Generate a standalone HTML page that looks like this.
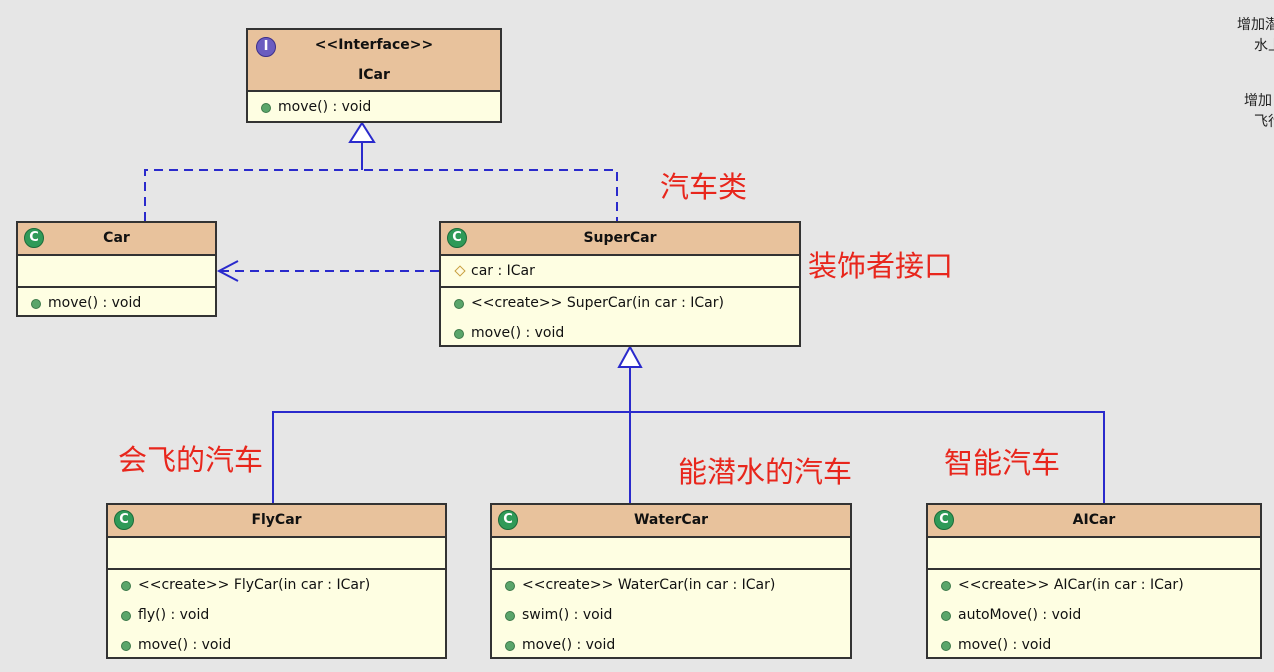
<!DOCTYPE html>
<html><head><meta charset="utf-8"><style>
body{margin:0;width:1274px;height:672px;background:#e6e6e6;position:relative;overflow:hidden;font-family:"DejaVu Sans","Liberation Sans",sans-serif;font-size:14px;color:#111}
.b{position:absolute;border:2px solid #333;background:#fefee2;box-sizing:border-box}
.h{background:#e8c29c;border-bottom:2px solid #333;height:31px;position:relative;text-align:center;font-weight:bold;line-height:31px}
.s{border-bottom:2px solid #333;height:30px;position:relative}
.r{height:30px;line-height:30px;padding-left:30px;position:relative;white-space:nowrap}
.r:before{content:"";position:absolute;left:13px;top:11px;width:10px;height:10px;border-radius:50%;background:#5aa56a;border:1px solid #3d7a4a;box-sizing:border-box}
.r.d:before{transform:rotate(45deg);border-radius:0;background:#fffbe0;border:1px solid #c8a040;width:8px;height:8px;left:15px}
.ic{position:absolute;left:6px;top:5px;width:20px;height:20px;border-radius:50%;background:#2f9a58;border:1px solid #1b6b3a;box-sizing:border-box;color:#fff;font-size:13px;line-height:18px;text-align:center;font-weight:bold}
.red{position:absolute;color:#e8261c;font-size:29px;font-family:"Noto Sans CJK SC",sans-serif;white-space:nowrap;line-height:1}
.cj{position:absolute;font-size:14px;font-family:"Noto Sans CJK SC",sans-serif;color:#222;white-space:nowrap;line-height:1}
</style></head><body>
<svg width="1274" height="672" style="position:absolute;left:0;top:0">
<g stroke="#2a2acc" stroke-width="2" fill="none">
<path d="M145 221V170H617V221" stroke-dasharray="9,6"/>
<path d="M362 170V142"/>
<path d="M350 142L362 123L374 142Z" fill="#fff"/>
<path d="M439 271H219" stroke-dasharray="9,6"/>
<path d="M238 261L219 271L238 281"/>
<path d="M630 367V503M273 503V412H1104V503"/>
<path d="M619 367L630 347L641 367Z" fill="#fff"/>
</g></svg>

<div class="b" style="left:246px;top:28px;width:256px;height:95px">
<div class="h" style="height:60px;line-height:30px"><div class="ic" style="background:#6a5cc0;border-color:#3c2f8a;left:8px;top:7px">I</div>&lt;&lt;Interface&gt;&gt;<br>ICar</div>
<div class="r">move() : void</div></div>

<div class="b" style="left:16px;top:221px;width:201px;height:96px">
<div class="h"><div class="ic">C</div>Car</div><div class="s"></div>
<div class="r">move() : void</div></div>

<div class="b" style="left:439px;top:221px;width:362px;height:126px">
<div class="h"><div class="ic">C</div>SuperCar</div>
<div class="s"><div class="r d">car : ICar</div></div>
<div class="r">&lt;&lt;create&gt;&gt; SuperCar(in car : ICar)</div>
<div class="r">move() : void</div></div>

<div class="b" style="left:106px;top:503px;width:341px;height:156px">
<div class="h"><div class="ic">C</div>FlyCar</div><div class="s"></div>
<div class="r">&lt;&lt;create&gt;&gt; FlyCar(in car : ICar)</div>
<div class="r">fly() : void</div><div class="r">move() : void</div></div>

<div class="b" style="left:490px;top:503px;width:362px;height:156px">
<div class="h"><div class="ic">C</div>WaterCar</div><div class="s"></div>
<div class="r">&lt;&lt;create&gt;&gt; WaterCar(in car : ICar)</div>
<div class="r">swim() : void</div><div class="r">move() : void</div></div>

<div class="b" style="left:926px;top:503px;width:336px;height:156px">
<div class="h"><div class="ic">C</div>AICar</div><div class="s"></div>
<div class="r">&lt;&lt;create&gt;&gt; AICar(in car : ICar)</div>
<div class="r">autoMove() : void</div><div class="r">move() : void</div></div>

<div class="red" style="left:660px;top:171px">汽车类</div>
<div class="red" style="left:808px;top:250px">装饰者接口</div>
<div class="red" style="left:118px;top:444px">会飞的汽车</div>
<div class="red" style="left:678px;top:456px">能潜水的汽车</div>
<div class="red" style="left:944px;top:447px">智能汽车</div>

<div class="cj" style="left:1237px;top:17px">增加潜</div>
<div class="cj" style="left:1254px;top:38px">水上</div>
<div class="cj" style="left:1244px;top:93px">增加</div>
<div class="cj" style="left:1254px;top:114px">飞行</div>
</body></html>
